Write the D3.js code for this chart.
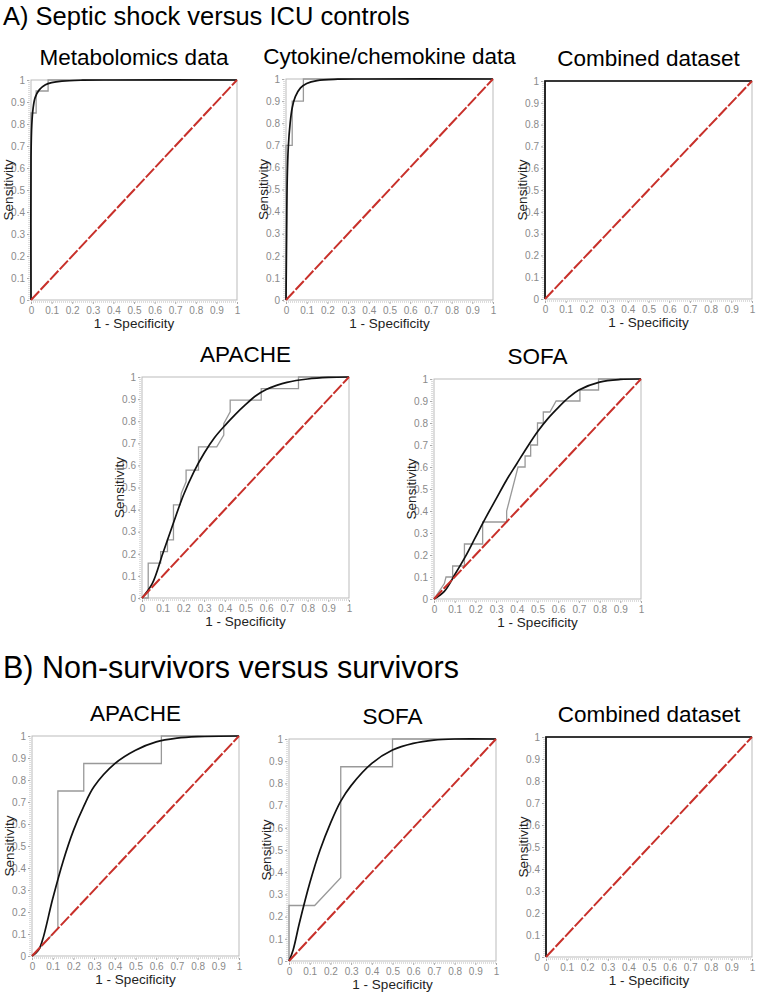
<!DOCTYPE html>
<html>
<head>
<meta charset="utf-8">
<script src="https://cdn.jsdelivr.net/npm/d3@7"></script>
<style>
  body { margin: 0; background: #fff; }
  svg { display: block; font-family: "Liberation Sans", Arial, sans-serif; }
</style>
</head>
<body>
<svg id="chart" width="757" height="992"></svg>
<script>
// tick values shared by all panels
var ticks = [0, 0.1, 0.2, 0.3, 0.4, 0.5, 0.6, 0.7, 0.8, 0.9, 1];
var diagonal = [[0, 0], [1, 1]];

// A) septic shock vs ICU controls
var metabStep = [[0,0],[0,0.85],[0.025,0.85],[0.025,0.95],[0.083,0.95],[0.083,1],[1,1]];
var metabFit = [[0,0],[0,0.65],[0.004,0.8],[0.01,0.87],[0.02,0.92],[0.04,0.955],[0.07,0.978],[0.1,0.988],[0.15,0.995],[0.25,0.999],[0.4,1],[1,1]];

var cytoStep = [[0,0],[0,0.7],[0.03,0.7],[0.03,0.9],[0.084,0.9],[0.084,1],[1,1]];
var cytoFit = [[0,0],[0.003,0.3],[0.006,0.55],[0.011,0.69],[0.02,0.8],[0.03,0.87],[0.045,0.92],[0.07,0.96],[0.1,0.98],[0.15,0.993],[0.25,0.999],[0.4,1],[1,1]];

var combStep = [[0,0],[0,1],[1,1]];
var combFit = [[0,0],[0,1],[1,1]];

var apacheAStep = [[0,0],[0.03,0],[0.03,0.158],[0.09,0.158],[0.09,0.21],[0.123,0.21],[0.123,0.263],[0.152,0.263],[0.152,0.421],[0.184,0.421],[0.19,0.474],[0.213,0.526],[0.213,0.579],[0.273,0.579],[0.273,0.684],[0.361,0.684],[0.395,0.737],[0.395,0.789],[0.426,0.842],[0.426,0.895],[0.576,0.895],[0.576,0.947],[0.756,0.947],[0.756,1],[1,1]];
var apacheAFit = [[0,0],[0.05,0.066],[0.1,0.2],[0.15,0.335],[0.2,0.465],[0.25,0.57],[0.3,0.655],[0.35,0.725],[0.4,0.78],[0.45,0.83],[0.5,0.875],[0.55,0.915],[0.6,0.943],[0.65,0.962],[0.7,0.976],[0.8,0.991],[0.9,0.998],[1,1]];

var sofaAStep = [[0,0],[0.05,0.07],[0.058,0.1],[0.09,0.1],[0.09,0.15],[0.147,0.15],[0.147,0.25],[0.235,0.25],[0.235,0.35],[0.351,0.35],[0.351,0.4],[0.406,0.6],[0.44,0.6],[0.44,0.65],[0.467,0.65],[0.467,0.7],[0.5,0.7],[0.5,0.8],[0.528,0.8],[0.528,0.85],[0.56,0.85],[0.59,0.9],[0.705,0.9],[0.705,0.95],[0.795,0.95],[0.795,1],[1,1]];
var sofaAFit = [[0,0],[0.05,0.035],[0.1,0.11],[0.15,0.19],[0.2,0.28],[0.25,0.37],[0.3,0.455],[0.35,0.54],[0.4,0.615],[0.45,0.69],[0.5,0.76],[0.55,0.82],[0.6,0.87],[0.65,0.915],[0.7,0.95],[0.8,0.986],[0.9,0.998],[1,1]];

// B) non-survivors vs survivors
var apacheBStep = [[0,0],[0.125,0.125],[0.125,0.75],[0.25,0.75],[0.25,0.875],[0.625,0.875],[0.625,1],[1,1]];
var apacheBFit = [[0,0],[0.03,0.025],[0.05,0.07],[0.1,0.26],[0.15,0.43],[0.2,0.57],[0.25,0.68],[0.3,0.77],[0.4,0.874],[0.5,0.935],[0.6,0.973],[0.7,0.99],[0.8,0.997],[1,1]];

var sofaBStep = [[0,0],[0,0.25],[0.124,0.25],[0.25,0.375],[0.25,0.875],[0.5,0.875],[0.5,1],[1,1]];
var sofaBFit = [[0,0],[0.02,0.05],[0.05,0.17],[0.1,0.35],[0.15,0.5],[0.2,0.62],[0.25,0.72],[0.3,0.79],[0.4,0.89],[0.5,0.95],[0.6,0.98],[0.7,0.995],[0.8,1],[1,1]];

var sectionTitles = ["A) Septic shock versus ICU controls", "B) Non-survivors versus survivors"];

// panel layout: plot box in page pixels; corner = fitted curve is a right angle
var panels = [
  {title: "Metabolomics data",        step: metabStep,   fit: metabFit,   x: 31,  y: 80,  w: 206, h: 220},
  {title: "Cytokine/chemokine data",  step: cytoStep,    fit: cytoFit,    x: 286, y: 79,  w: 207, h: 221},
  {title: "Combined dataset",         step: combStep,    fit: combFit,    x: 545, y: 81,  w: 207, h: 218, corner: true},
  {title: "APACHE",                   step: apacheAStep, fit: apacheAFit, x: 142, y: 377, w: 207, h: 221},
  {title: "SOFA",                     step: sofaAStep,   fit: sofaAFit,   x: 434, y: 379, w: 207, h: 220},
  {title: "APACHE",                   step: apacheBStep, fit: apacheBFit, x: 32,  y: 736, w: 207, h: 220},
  {title: "SOFA",                     step: sofaBStep,   fit: sofaBFit,   x: 289, y: 739, w: 207, h: 222},
  {title: "Combined dataset",         step: combStep,    fit: combFit,    x: 546, y: 737, w: 206, h: 220, corner: true}
];

var svg = d3.select("#chart");

svg.append("text").attr("x", 3).attr("y", 25)
  .attr("font-size", 25.5).attr("fill", "#000").text(sectionTitles[0]);
svg.append("text").attr("x", 3).attr("y", 678)
  .attr("font-size", 30.5).attr("fill", "#000").text(sectionTitles[1]);

panels.forEach(function (p, i) {
  var g = svg.append("g").attr("transform", "translate(" + p.x + "," + p.y + ")");
  var x = d3.scaleLinear().domain([0, 1]).range([0, p.w]);
  var y = d3.scaleLinear().domain([0, 1]).range([p.h, 0]);

  // frame
  g.append("rect").attr("width", p.w).attr("height", p.h)
    .attr("fill", "none").attr("stroke", "#bbb").attr("stroke-width", 1);
  // doubled dotted axis lines like the original
  g.append("line").attr("x1", 0).attr("x2", p.w).attr("y1", p.h + 2).attr("y2", p.h + 2)
    .attr("stroke", "#bbb").attr("stroke-dasharray", "1,1");
  g.append("line").attr("x1", -2).attr("x2", -2).attr("y1", 0).attr("y2", p.h + 2)
    .attr("stroke", "#bbb").attr("stroke-dasharray", "1,1");

  var fmt = function (d) { return d === 0 ? "0" : d === 1 ? "1" : d3.format(".1f")(d); };
  var xAxis = g.append("g").attr("transform", "translate(0," + (p.h + 2) + ")")
    .call(d3.axisBottom(x).tickValues(ticks).tickFormat(fmt).tickSize(2).tickPadding(3));
  var yAxis = g.append("g").attr("transform", "translate(-2,0)")
    .call(d3.axisLeft(y).tickValues(ticks).tickFormat(fmt).tickSize(2).tickPadding(2));
  [xAxis, yAxis].forEach(function (a) {
    a.select(".domain").remove();
    a.selectAll("line").attr("stroke", "#aaa");
    a.selectAll("text").attr("fill", "#8a8a8a").attr("font-size", 10);
  });

  // axis titles
  g.append("text").attr("x", p.w / 2).attr("y", p.h + 28)
    .attr("text-anchor", "middle").attr("font-size", 13.5).attr("fill", "#222")
    .text("1 - Specificity");
  g.append("text").attr("transform", "translate(-18," + (p.h / 2) + ") rotate(-90)")
    .attr("text-anchor", "middle").attr("font-size", 13.5).attr("fill", "#222")
    .text("Sensitivity");

  // panel title
  g.append("text").attr("x", p.w / 2).attr("y", -15)
    .attr("text-anchor", "middle").attr("font-size", 22.5).attr("fill", "#000")
    .text(p.title);

  var clipId = "clip" + i;
  g.append("clipPath").attr("id", clipId).append("rect")
    .attr("x", -2).attr("y", -2).attr("width", p.w + 4).attr("height", p.h + 4);
  var plot = g.append("g").attr("clip-path", "url(#" + clipId + ")");

  var line = d3.line().x(function (d) { return x(d[0]); }).y(function (d) { return y(d[1]); });
  var smooth = d3.line().x(function (d) { return x(d[0]); }).y(function (d) { return y(d[1]); })
    .curve(p.corner ? d3.curveLinear : d3.curveCatmullRom.alpha(0.5));

  plot.append("path").datum(p.step).attr("d", line)
    .attr("fill", "none").attr("stroke", "#999").attr("stroke-width", 1.3);
  plot.append("path").datum(p.fit).attr("d", smooth)
    .attr("fill", "none").attr("stroke", "#111").attr("stroke-width", 1.7);
  plot.append("path").datum(diagonal).attr("d", line)
    .attr("fill", "none").attr("stroke", "#c8302a").attr("stroke-width", 2)
    .attr("stroke-dasharray", "12,2");
});
</script>
</body>
</html>
